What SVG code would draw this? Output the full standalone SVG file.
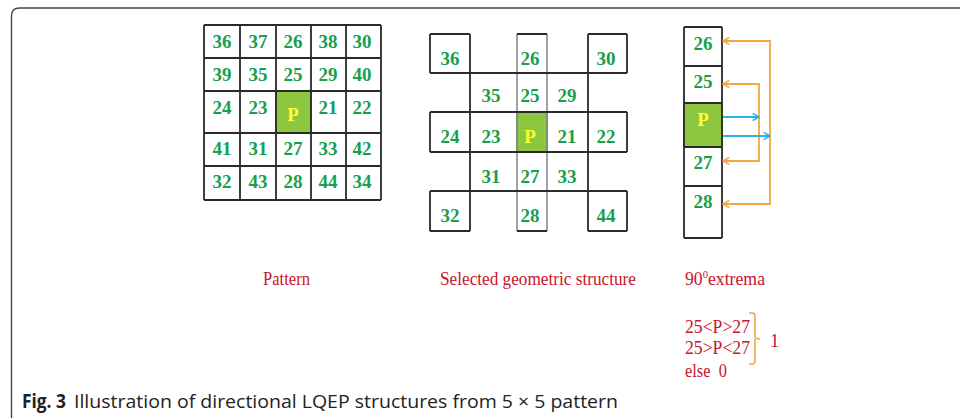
<svg xmlns="http://www.w3.org/2000/svg" width="960" height="420" viewBox="0 0 960 420">
  <style>
    .n { font-family: "Liberation Serif", "Times New Roman", serif; font-weight: bold; font-size: 19px; fill: #17a04c; text-anchor: middle; }
    .p { font-family: "Liberation Serif", "Times New Roman", serif; font-weight: bold; font-size: 19px; fill: #ffff33; text-anchor: middle; }
    .lab { font-family: "Liberation Serif", "Times New Roman", serif; font-size: 18.5px; fill: #c8142c; }
    .grid { stroke: #2a2a2a; stroke-width: 1.8; fill: none; }
    .gray { stroke: #8a8a8a; stroke-width: 1.6; fill: none; }
    .pc { fill: #8dc63f; stroke: #4d7a22; stroke-width: 1.5; }
    .cap { font-family: "Open Sans", "Noto Sans", "Liberation Sans", sans-serif; font-size: 19px; fill: #222; }
    .or { stroke: #f4a640; stroke-width: 1.8; fill: none; }
    .bl { stroke: #29b3e8; stroke-width: 1.8; fill: none; }
  </style>
  <defs>
    <marker id="ahO" viewBox="0 0 10 10" refX="9" refY="5" markerWidth="9" markerHeight="9" markerUnits="userSpaceOnUse" orient="auto-start-reverse">
      <path d="M2,1 L9,5 L2,9" fill="none" stroke="#f4a640" stroke-width="1.8"/>
    </marker>
    <marker id="ahB" viewBox="0 0 10 10" refX="9" refY="5" markerWidth="9" markerHeight="9" markerUnits="userSpaceOnUse" orient="auto">
      <path d="M2,1 L9,5 L2,9" fill="none" stroke="#29b3e8" stroke-width="1.8"/>
    </marker>
  </defs>

  <rect width="960" height="420" fill="#ffffff"/>

  <!-- figure frame -->
  <path d="M11.5,418 V16 Q11.5,8 19.5,8 H960" fill="none" stroke="#444" stroke-width="1.4"/>

  <!-- 5x5 pattern -->
  <g id="pattern">
    <rect class="pc" x="276" y="91" width="35" height="42"/>
    <path class="grid" d="M204,25 H381 M204,58 H381 M204,91 H381 M204,133 H381 M204,166 H381 M204,200 H381
                          M204,25 V200 M240,25 V200 M276,25 V200 M311,25 V200 M346,25 V200 M381,25 V200"/>
    <text class="n" x="222" y="48">36</text><text class="n" x="258" y="48">37</text><text class="n" x="293" y="48">26</text><text class="n" x="328" y="48">38</text><text class="n" x="362" y="48">30</text>
    <text class="n" x="222" y="81">39</text><text class="n" x="258" y="81">35</text><text class="n" x="293" y="81">25</text><text class="n" x="328" y="81">29</text><text class="n" x="362" y="81">40</text>
    <text class="n" x="222" y="114">24</text><text class="n" x="258" y="114">23</text><text class="p" x="293" y="121">P</text><text class="n" x="328" y="114">21</text><text class="n" x="362" y="114">22</text>
    <text class="n" x="222" y="155">41</text><text class="n" x="258" y="155">31</text><text class="n" x="293" y="155">27</text><text class="n" x="328" y="155">33</text><text class="n" x="362" y="155">42</text>
    <text class="n" x="222" y="188">32</text><text class="n" x="258" y="188">43</text><text class="n" x="293" y="188">28</text><text class="n" x="328" y="188">44</text><text class="n" x="362" y="188">34</text>
  </g>

  <!-- selected geometric structure -->
  <g id="structure">
    <rect class="pc" x="517" y="112" width="30" height="40"/>
    <path class="gray" d="M517,34 V231 M547,34 V231"/>
    <path class="grid" d="M430,34 H470 M517,34 H547 M588,34 H627
                          M430,73 H627 M430,112 H627 M430,152 H627 M430,191 H627
                          M430,231 H470 M517,231 H547 M588,231 H627
                          M430,34 V73 M430,112 V152 M430,191 V231
                          M627,34 V73 M627,112 V152 M627,191 V231
                          M470,34 V231 M588,34 V231"/>
    <text class="n" x="450" y="65">36</text><text class="n" x="530" y="65">26</text><text class="n" x="606" y="65">30</text>
    <text class="n" x="491" y="102">35</text><text class="n" x="530" y="102">25</text><text class="n" x="567" y="102">29</text>
    <text class="n" x="450" y="143">24</text><text class="n" x="491" y="143">23</text><text class="p" x="530" y="143">P</text><text class="n" x="567" y="143">21</text><text class="n" x="606" y="143">22</text>
    <text class="n" x="491" y="183">31</text><text class="n" x="530" y="183">27</text><text class="n" x="567" y="183">33</text>
    <text class="n" x="450" y="222">32</text><text class="n" x="530" y="222">28</text><text class="n" x="606" y="222">44</text>
  </g>

  <!-- 90 degree column -->
  <g id="column">
    <rect class="pc" x="684" y="103" width="38" height="44"/>
    <path class="grid" d="M684,27 H722 M684,66 H722 M684,103 H722 M684,147 H722 M684,186 H722 M684,238 H722 M684,27 V238 M722,27 V238"/>
    <text class="n" x="703" y="50">26</text>
    <text class="n" x="703" y="88">25</text>
    <text class="p" x="703" y="126">P</text>
    <text class="n" x="703" y="169">27</text>
    <text class="n" x="703" y="208">28</text>
  </g>

  <!-- comparison connectors -->
  <g id="connectors">
    <path class="or" d="M723,41 H770 V204 H723" marker-start="url(#ahO)" marker-end="url(#ahO)"/>
    <path class="or" d="M723,84 H759 V161 H723" marker-start="url(#ahO)" marker-end="url(#ahO)"/>
    <path class="bl" d="M723,117 H759" marker-end="url(#ahB)"/>
    <path class="bl" d="M723,136 H770" marker-end="url(#ahB)"/>
  </g>

  <!-- labels -->
  <text class="lab" x="263" y="285" textLength="47" lengthAdjust="spacingAndGlyphs">Pattern</text>
  <text class="lab" x="440" y="285" textLength="196" lengthAdjust="spacingAndGlyphs">Selected geometric structure</text>
  <text class="lab" x="685" y="285" textLength="80" lengthAdjust="spacingAndGlyphs">90<tspan font-size="11" dy="-7">0</tspan><tspan dy="7">extrema</tspan></text>
  <text class="lab" x="685" y="333" textLength="65" lengthAdjust="spacingAndGlyphs">25&lt;P&gt;27</text>
  <text class="lab" x="685" y="354" textLength="65" lengthAdjust="spacingAndGlyphs">25&gt;P&lt;27</text>
  <text class="lab" x="685" y="377" textLength="42" lengthAdjust="spacingAndGlyphs" xml:space="preserve">else  0</text>
  <path d="M749,313 H752 Q755,313 755,316 V336 Q755,339 760,339 M755,339 Q755,342 755,345 V361 Q755,364 752,364 H749" fill="none" stroke="#f4a640" stroke-width="1.6"/>
  <text class="lab" x="770" y="347">1</text>

  <!-- caption -->
  <text class="cap" x="22" y="408" font-weight="bold" textLength="44" lengthAdjust="spacingAndGlyphs">Fig. 3</text>
  <text class="cap" x="74" y="408" textLength="544" lengthAdjust="spacingAndGlyphs">Illustration of directional LQEP structures from 5 × 5 pattern</text>
</svg>
